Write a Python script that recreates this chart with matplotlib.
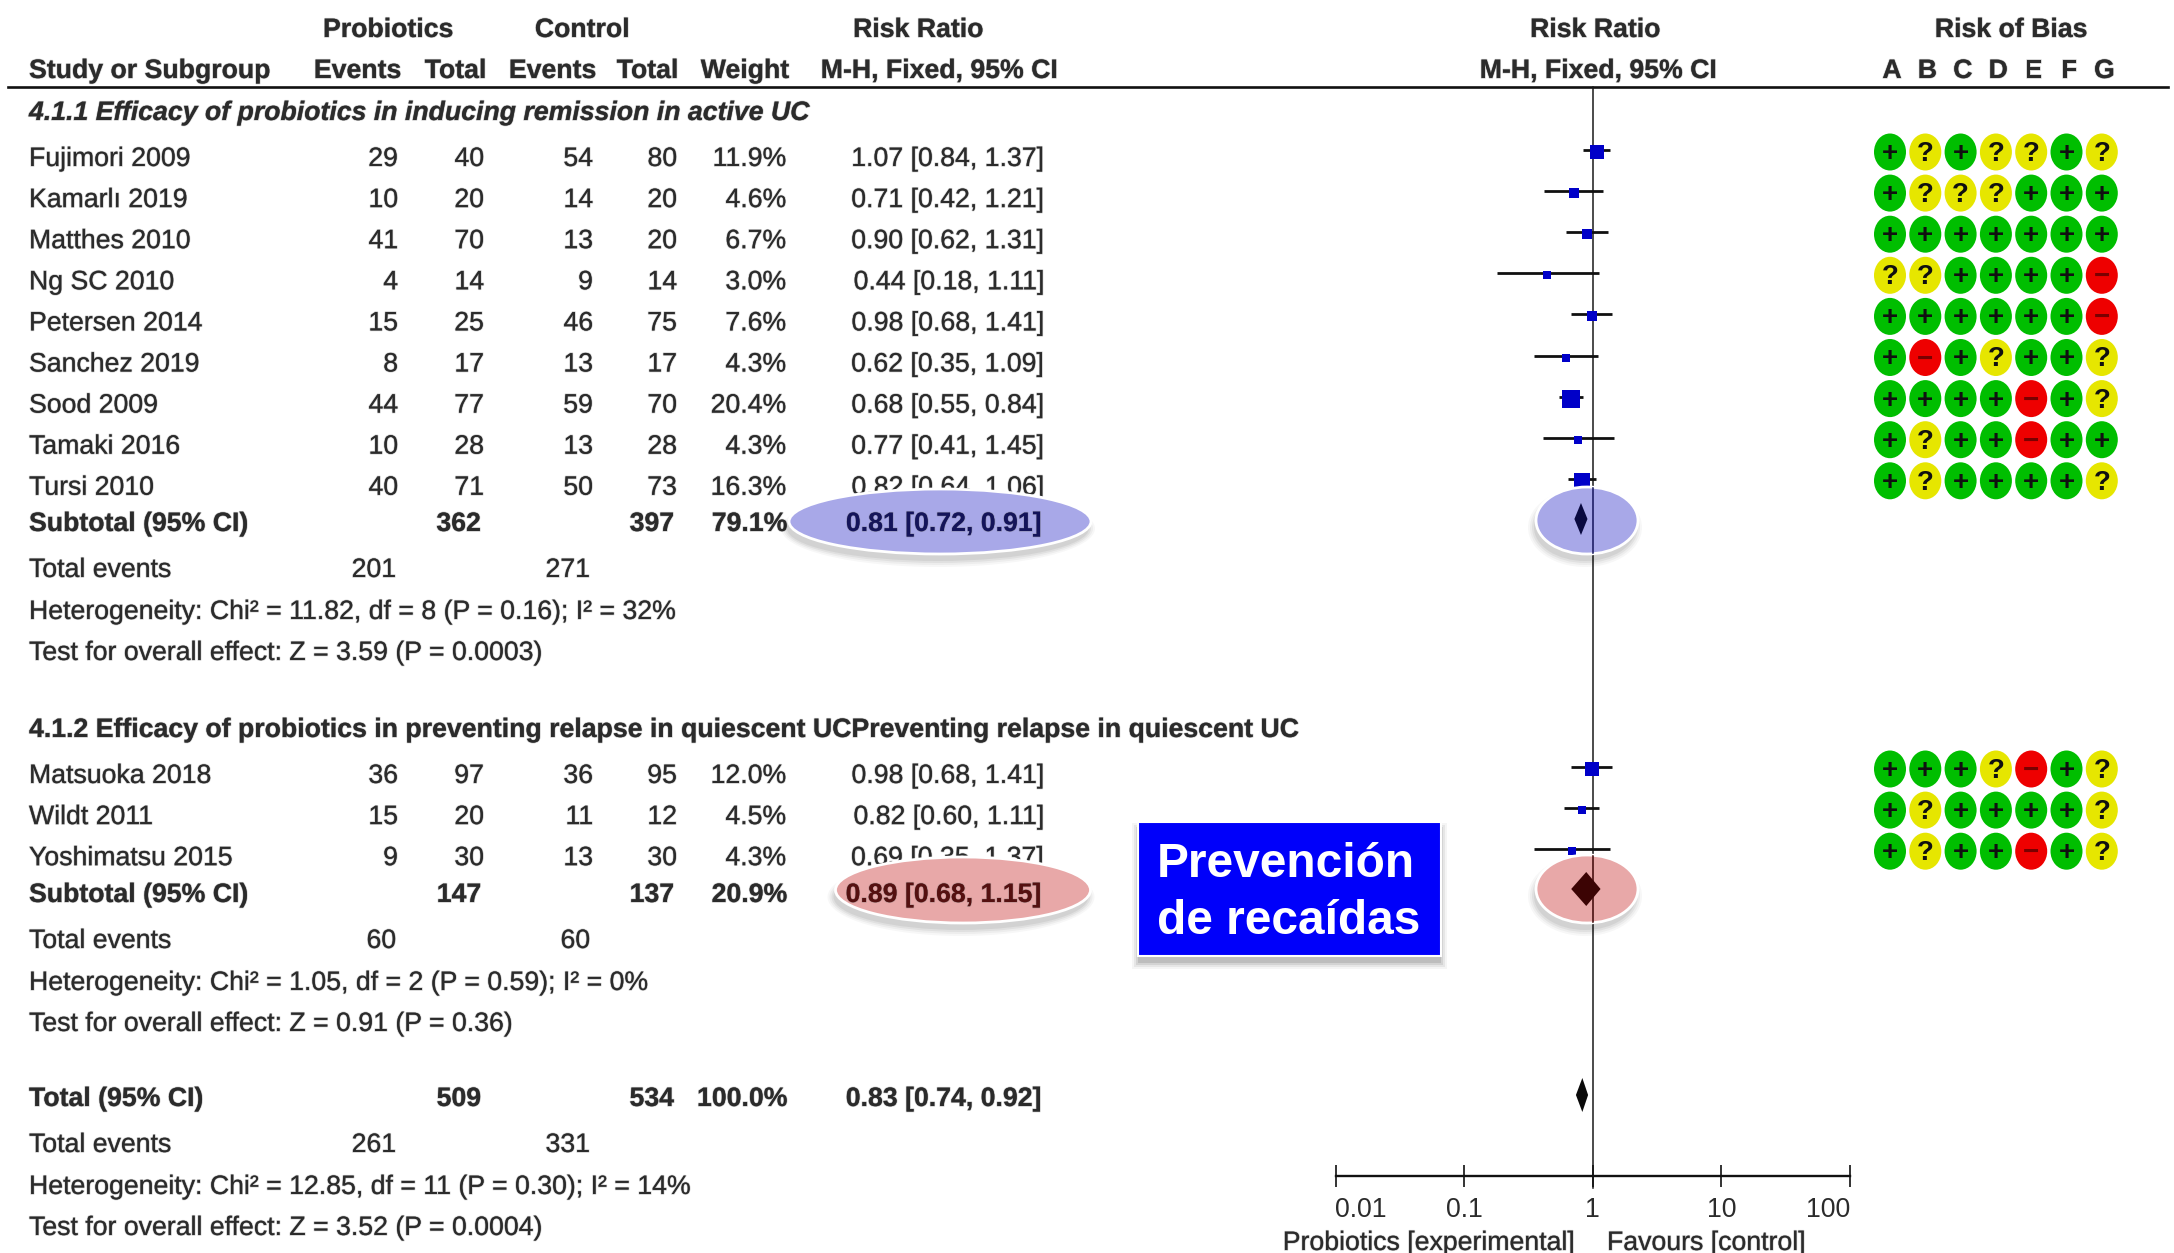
# Forest plot of probiotics vs control, with risk of bias grid and highlights

# Import libs
import matplotlib
matplotlib.use("Agg")
import matplotlib.pyplot as plt
import matplotlib.patheffects as pe
from matplotlib.patches import Ellipse, Rectangle
from matplotlib.ticker import NullLocator

plt.rcParams['font.family'] = ['Liberation Sans', 'DejaVu Sans']

# Subgroup 4.1.1
studies1 = ["Fujimori 2009", "Kamarlı 2019", "Matthes 2010", "Ng SC 2010", "Petersen 2014",
            "Sanchez 2019", "Sood 2009", "Tamaki 2016", "Tursi 2010"]
probEvents1 = [29, 10, 41, 4, 15, 8, 44, 10, 40]
probTotal1 = [40, 20, 70, 14, 25, 17, 77, 28, 71]
ctrlEvents1 = [54, 14, 13, 9, 46, 13, 59, 13, 50]
ctrlTotal1 = [80, 20, 20, 14, 75, 17, 70, 28, 73]
weight1 = [11.9, 4.6, 6.7, 3.0, 7.6, 4.3, 20.4, 4.3, 16.3]
rr1 = [1.07, 0.71, 0.90, 0.44, 0.98, 0.62, 0.68, 0.77, 0.82]
low1 = [0.84, 0.42, 0.62, 0.18, 0.68, 0.35, 0.55, 0.41, 0.64]
high1 = [1.37, 1.21, 1.31, 1.11, 1.41, 1.09, 0.84, 1.45, 1.06]
bias1 = ["+?+??+?", "+???+++", "+++++++", "??++++-", "++++++-",
         "+-+?++?", "++++-+?", "+?++-++", "+?++++?"]

# Subgroup 4.1.2
studies2 = ["Matsuoka 2018", "Wildt 2011", "Yoshimatsu 2015"]
probEvents2 = [36, 15, 9]
probTotal2 = [97, 20, 30]
ctrlEvents2 = [36, 11, 13]
ctrlTotal2 = [95, 12, 30]
weight2 = [12.0, 4.5, 4.3]
rr2 = [0.98, 0.82, 0.69]
low2 = [0.68, 0.60, 0.35]
high2 = [1.41, 1.11, 1.37]
bias2 = ["+++?-+?", "+?++++?", "+?++-+?"]

# Pooled results: [rr, low, high]
pooled1 = [0.81, 0.72, 0.91]
pooled2 = [0.89, 0.68, 1.15]
pooledAll = [0.83, 0.74, 0.92]

biasLetters = ["A", "B", "C", "D", "E", "F", "G"]
axisTicks = [0.01, 0.1, 1, 10, 100]
axisLabels = ["0.01", "0.1", "1", "10", "100"]

textColor = "#2B2B2B"
blueFill = "#A8A8E8"
redFill = "#E8A8A8"
navy = "#14145A"
darkRed = "#3C0404"
biasColors = {"+": "#00BE00", "?": "#E6E600", "-": "#EE0000"}

fig = plt.figure(figsize=(21.74, 12.53), dpi=100)

# Pixel axes for text and shapes
ax = fig.add_axes([0, 0, 1, 1])
ax.set_xlim(0, 2174)
ax.set_ylim(1253, 0)
ax.axis("off")

# Log axes for the forest part, same vertical pixels
fax = fig.add_axes([1335.5 / 2174, 0, 514.5 / 2174, 1])
fax.set_xscale("log")
fax.set_xlim(0.01, 100)
fax.set_ylim(1253, 0)
fax.patch.set_visible(False)


# Text with baseline worked out from the row centre, soft edge like the scanned original
def putText(x, y, s, ha="left", weight="normal", style="normal", color=textColor, size=19.2, z=2):
    t = ax.text(x, y + 9, s, ha=ha, va="baseline", fontsize=size, fontweight=weight,
                fontstyle=style, color=color, zorder=z)
    t.set_path_effects([pe.withStroke(linewidth=1.1, foreground=(0.45, 0.45, 0.45, 0.35))])
    return t


# Soft shadow under a highlight ellipse
def drawShadow(target, cx, cy, w, h):
    for grow, alpha in zip([12, 8, 4, 0], [0.03, 0.04, 0.05, 0.06]):
        target.add_patch(Ellipse((cx - 2, cy + 7), w + grow, h + grow, facecolor="black", edgecolor="none",
                                 alpha=alpha, zorder=3, transform=ax.transData))


# Draw one highlight ellipse, returns it so lines can be clipped to it
def drawHighlight(target, cx, cy, w, h, fill):
    drawShadow(target, cx, cy, w, h)
    e = Ellipse((cx, cy), w, h, facecolor=fill, edgecolor="white", linewidth=2,
                zorder=4, transform=ax.transData)
    target.add_patch(e)
    return e


# Rows of one subgroup: table columns, confidence interval and risk of bias
def drawStudies(firstRow, studies, probEvents, probTotal, ctrlEvents, ctrlTotal, weight, rr, low, high, bias):
    for i in range(len(studies)):
        y = firstRow + 41.1 * i
        putText(29, y, studies[i])
        putText(398, y, str(probEvents[i]), ha="right")
        putText(484, y, str(probTotal[i]), ha="right")
        putText(593, y, str(ctrlEvents[i]), ha="right")
        putText(677, y, str(ctrlTotal[i]), ha="right")
        putText(786, y, f"{weight[i]:.1f}%", ha="right")
        putText(1043, y, f"{rr[i]:.2f} [{low[i]:.2f}, {high[i]:.2f}]", ha="right")

        fax.plot([low[i], high[i]], [y - 7, y - 7], color="#101010", lw=2.0, zorder=2,
                 solid_capstyle="butt")
        side = (6.5 + 0.55 * weight[i]) * 0.72
        fax.scatter([rr[i]], [y - 5], s=side ** 2, marker="s", color="#0000C8", linewidths=0, zorder=2.5)

        for j in range(len(bias[i])):
            mark = bias[i][j]
            cx = 1890 + 35.3 * j
            ax.add_patch(Ellipse((cx, y - 5), 32, 37, facecolor=biasColors[mark], edgecolor="none", zorder=2))
            glyph = "−" if mark == "-" else mark
            ax.text(cx, y - 5 + 9, glyph, ha="center", va="baseline", fontsize=20, fontweight="bold",
                    color="#101010" if mark != "-" else "#7A0000", zorder=3)


# Totals block under each subgroup
def drawTotals(y, label, nProb, nCtrl, weightText, pooled, evProb, evCtrl, hetText, testText, colorOver):
    putText(29, y, label, weight="bold")
    putText(481, y, str(nProb), ha="right", weight="bold")
    putText(674, y, str(nCtrl), ha="right", weight="bold")
    putText(787, y, weightText, ha="right", weight="bold")
    putText(1041, y, f"{pooled[0]:.2f} [{pooled[1]:.2f}, {pooled[2]:.2f}]", ha="right", weight="bold",
            color=colorOver, z=6)
    putText(29, y + 46, "Total events")
    putText(396, y + 46, str(evProb), ha="right")
    putText(590, y + 46, str(evCtrl), ha="right")
    putText(29, y + 88, hetText)
    putText(29, y + 129, testText)


def drawDiamond(y, pooled, halfHeight, color):
    fax.fill([pooled[1], pooled[0], pooled[2], pooled[0]], [y, y - halfHeight, y, y + halfHeight],
             color=color, linewidth=0, zorder=6)


# Column headers
putText(388, 28, "Probiotics", ha="center", weight="bold")
putText(582, 28, "Control", ha="center", weight="bold")
putText(918, 28, "Risk Ratio", ha="center", weight="bold")
putText(1595, 28, "Risk Ratio", ha="center", weight="bold")
putText(2011, 28, "Risk of Bias", ha="center", weight="bold")
putText(29, 69, "Study or Subgroup", weight="bold")
putText(401, 69, "Events", ha="right", weight="bold")
putText(486, 69, "Total", ha="right", weight="bold")
putText(596, 69, "Events", ha="right", weight="bold")
putText(678, 69, "Total", ha="right", weight="bold")
putText(789, 69, "Weight", ha="right", weight="bold")
putText(939, 69, "M-H, Fixed, 95% CI", ha="center", weight="bold")
putText(1598, 69, "M-H, Fixed, 95% CI", ha="center", weight="bold")
for j in range(len(biasLetters)):
    putText(1892 + 35.4 * j, 69, biasLetters[j], ha="center", weight="bold")
ax.plot([8, 2168], [87, 87], color="#111111", lw=1.9, zorder=2)

# Subgroup headings
putText(29, 111, "4.1.1 Efficacy of probiotics in inducing remission in active UC", weight="bold", style="italic")
putText(29, 728, "4.1.2 Efficacy of probiotics in preventing relapse in quiescent UCPreventing relapse in quiescent UC",
        weight="bold")

drawStudies(157, studies1, probEvents1, probTotal1, ctrlEvents1, ctrlTotal1, weight1, rr1, low1, high1, bias1)
drawStudies(774, studies2, probEvents2, probTotal2, ctrlEvents2, ctrlTotal2, weight2, rr2, low2, high2, bias2)

drawTotals(522, "Subtotal (95% CI)", 362, 397, "79.1%", pooled1, 201, 271,
           "Heterogeneity: Chi² = 11.82, df = 8 (P = 0.16); I² = 32%",
           "Test for overall effect: Z = 3.59 (P = 0.0003)", navy)
drawTotals(893, "Subtotal (95% CI)", 147, 137, "20.9%", pooled2, 60, 60,
           "Heterogeneity: Chi² = 1.05, df = 2 (P = 0.59); I² = 0%",
           "Test for overall effect: Z = 0.91 (P = 0.36)", "#551010")
drawTotals(1097, "Total (95% CI)", 509, 534, "100.0%", pooledAll, 261, 331,
           "Heterogeneity: Chi² = 12.85, df = 11 (P = 0.30); I² = 14%",
           "Test for overall effect: Z = 3.52 (P = 0.0004)", textColor)

# Line of no effect
fax.plot([1, 1], [87, 1188], color="#1A1A1A", lw=1.1, zorder=1.5)

# Highlights over the table
drawHighlight(ax, 940, 521.5, 302, 65, blueFill)
drawHighlight(ax, 963, 890, 255, 66, redFill)

# Highlights over the forest part, the line of no effect shows through them
blueCircle = drawHighlight(fax, 1587, 520.5, 102, 67, blueFill)
redCircle = drawHighlight(fax, 1587, 889, 102, 68, redFill)
for circle, color in [(blueCircle, navy), (redCircle, darkRed)]:
    over = fax.plot([1, 1], [87, 1188], color=color, lw=1.1, zorder=5)[0]
    over.set_clip_path(circle)

drawDiamond(519, pooled1, 16, "#0A0A40")
drawDiamond(889, pooled2, 17, darkRed)
drawDiamond(1095, pooledAll, 17, "#0A0A0A")

# Call-out box
for grow, alpha in zip([12, 8, 4, 0], [0.04, 0.06, 0.08, 0.10]):
    ax.add_patch(Rectangle((1138 - grow / 2, 829 - grow / 2), 303 + grow, 134 + grow, facecolor="black",
                           edgecolor="none", alpha=alpha, zorder=3))
ax.add_patch(Rectangle((1138, 822), 303, 134, facecolor="#0000FA", edgecolor="white", linewidth=1.5, zorder=4))
ax.text(1157, 877, "Prevención", color="white", fontsize=34.5, fontweight="bold", ha="left", va="baseline", zorder=5)
ax.text(1157, 934, "de recaídas", color="white", fontsize=34.5, fontweight="bold", ha="left", va="baseline", zorder=5)

# Bottom scale of the forest plot
for name in ["top", "left", "right"]:
    fax.spines[name].set_visible(False)
fax.spines["bottom"].set_position(("data", 1176))
fax.spines["bottom"].set_linewidth(1.7)
fax.spines["bottom"].set_color("#111111")
fax.set_yticks([])
fax.set_xticks(axisTicks)
fax.set_xticklabels(axisLabels, fontsize=19.2, color=textColor)
fax.xaxis.set_minor_locator(NullLocator())
fax.tick_params(axis="x", direction="inout", length=16, width=1.2, pad=7, color="#111111")
tickLabels = fax.get_xticklabels()
tickLabels[0].set_ha("left")
tickLabels[-1].set_ha("right")

putText(1574, 1241, "Probiotics [experimental]", ha="right")
putText(1607, 1241, "Favours [control]")

fig.savefig("out.png", dpi=100)
